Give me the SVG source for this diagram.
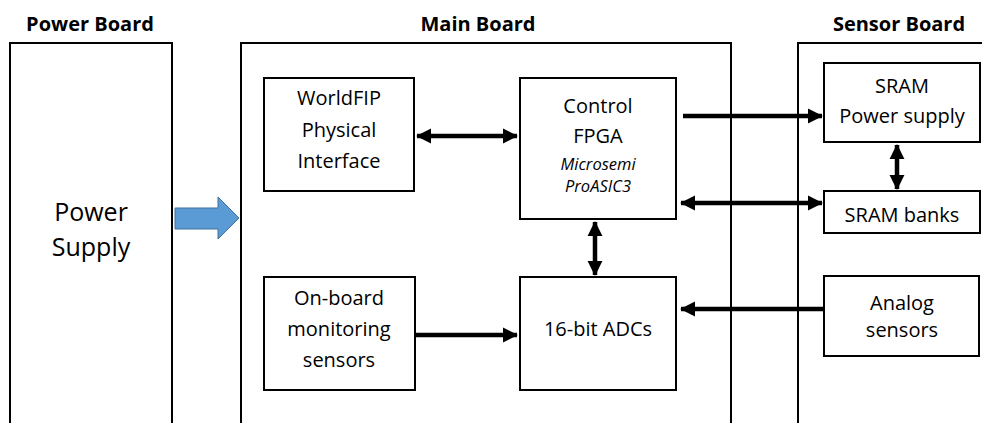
<svg xmlns="http://www.w3.org/2000/svg" width="982" height="423" viewBox="0 0 982 423">
<style>
.board{fill:none;stroke:#000;stroke-width:2}
.box{fill:#fff;stroke:#000;stroke-width:2}
.title{font-family:"Open Sans","Liberation Sans",sans-serif;font-weight:bold;font-size:20px;fill:#000;text-anchor:middle}
.t{font-family:"Open Sans","Liberation Sans",sans-serif;font-size:20px;fill:#000;text-anchor:middle}
.it{font-family:"Open Sans","Liberation Sans",sans-serif;font-size:16.5px;font-style:italic;fill:#000;text-anchor:middle}
.big{font-family:"Open Sans","Liberation Sans",sans-serif;font-size:25px;fill:#000;text-anchor:middle}
.c{stroke:#000;stroke-width:4.5;fill:none}
</style>
<defs>
<marker id="ah" markerWidth="4" markerHeight="4" refX="3.2" refY="2" orient="auto-start-reverse" markerUnits="strokeWidth" viewBox="0 0 4 4">
<path d="M0,0.3 L3.4,2 L0,3.7 Z" fill="#000"/>
</marker>
</defs>
<g id="power-board">
<path class="board" d="M10,424 V43 H172 V424"/>
<text class="title" x="90" y="31">Power Board</text>
<text class="big" x="91" y="221">Power</text>
<text class="big" x="91" y="256">Supply</text>
</g>
<g id="main-board">
<path class="board" d="M241,424 V43 H731 V424"/>
<text class="title" x="478" y="31">Main Board</text>
</g>
<g id="sensor-board">
<path class="board" d="M798,424 V43 H983"/>
<text class="title" x="899" y="31">Sensor Board</text>
</g>
<g id="worldfip">
<rect class="box" x="264" y="78" width="150" height="113"/>
<text class="t" x="339" y="105">WorldFIP</text>
<text class="t" x="339" y="137">Physical</text>
<text class="t" x="339" y="168">Interface</text>
</g>
<g id="fpga">
<rect class="box" x="520" y="78" width="156" height="141"/>
<text class="t" x="598" y="113">Control</text>
<text class="t" x="598" y="143">FPGA</text>
<text class="it" x="598" y="170">Microsemi</text>
<text class="it" x="598" y="192">ProASIC3</text>
</g>
<g id="sram-power">
<rect class="box" x="824" y="63" width="156" height="79"/>
<text class="t" x="902" y="93">SRAM</text>
<text class="t" x="902" y="123">Power supply</text>
</g>
<g id="sram-banks">
<rect class="box" x="824" y="191" width="156" height="42"/>
<text class="t" x="902" y="222">SRAM banks</text>
</g>
<g id="onboard">
<rect class="box" x="264" y="277" width="151" height="113"/>
<text class="t" x="339" y="305">On-board</text>
<text class="t" x="339" y="336">monitoring</text>
<text class="t" x="339" y="367">sensors</text>
</g>
<g id="adcs">
<rect class="box" x="520" y="277" width="156" height="113"/>
<text class="t" x="598" y="336">16-bit ADCs</text>
</g>
<g id="analog">
<rect class="box" x="824" y="276" width="155" height="80"/>
<text class="t" x="902" y="310">Analog</text>
<text class="t" x="902" y="337">sensors</text>
</g>
<g id="connectors">
<path d="M175,208 H218 V197 L239,218 L218,239 V229 H175 Z" fill="#5b9bd5" stroke="#41719c" stroke-width="1"/>
<line class="c" x1="417" y1="136" x2="517" y2="136" marker-start="url(#ah)" marker-end="url(#ah)"/>
<line class="c" x1="683" y1="116" x2="822" y2="116" marker-end="url(#ah)"/>
<line class="c" x1="681" y1="203" x2="822" y2="203" marker-start="url(#ah)" marker-end="url(#ah)"/>
<line class="c" x1="897" y1="145" x2="897" y2="189" marker-start="url(#ah)" marker-end="url(#ah)"/>
<line class="c" x1="595" y1="222" x2="595" y2="275" marker-start="url(#ah)" marker-end="url(#ah)"/>
<line class="c" x1="415" y1="335" x2="517" y2="335" marker-end="url(#ah)"/>
<line class="c" x1="824" y1="309" x2="681" y2="309" marker-end="url(#ah)"/>
</g>
</svg>
